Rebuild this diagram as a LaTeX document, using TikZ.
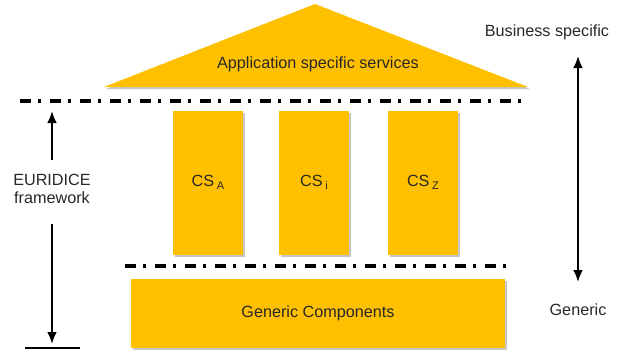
\documentclass[tikz,border=0pt]{standalone}
\usepackage{fontspec}
\setmainfont{Liberation Sans}
\usetikzlibrary{arrows.meta, calc, positioning, shadows}
\definecolor{amber}{RGB}{255,192,0}
\definecolor{ink}{RGB}{40,40,40}
\tikzset{
  block/.style={fill=amber, draw=none, text=ink, inner sep=0pt,
    drop shadow={shadow xshift=2pt, shadow yshift=-2pt, opacity=.45, fill=gray}},
  pillar/.style={block, minimum width=70pt, minimum height=144pt},
  layer/.style={line width=3.2pt, dash pattern=on 11pt off 7pt on 3pt off 9pt},
  span/.style={line width=2.4pt, -{Latex[length=12pt,width=10pt]}},
  tag/.style={text=ink, align=center}
}
\newcommand{\sub}[1]{\,\raisebox{-0.4ex}{\fontsize{11}{11}\selectfont #1}}
\begin{document}
\begin{tikzpicture}[x=1pt, y=-1pt, font=\fontsize{16.2}{18}\selectfont]
\useasboundingbox (0,0) rectangle (622,354);
%
% roof
\fill[amber, drop shadow={shadow xshift=2pt, shadow yshift=-2pt, opacity=.45, fill=gray}]
  (104,87) -- (315,4) -- (528,87) -- cycle;
\node[tag] (roof) at (318,64) {Application specific services};
%
\draw[layer] (20,101) -- (528,101);
\draw[layer] (125,266) -- (512,266);
%
% pillars
\node[pillar] (csA) at (208,182.5) {CS\sub{A}};
\node[pillar] (csI) at (314,182.5) {CS\sub{i}};
\node[pillar] (csZ) at (423,182.5) {CS\sub{Z}};
%
\node[block, minimum width=374pt, minimum height=69pt] (base) at (318,313.5) {Generic Components};
%
% left scale
\node[tag, inner sep=0pt] (frame) at (52,189) {EURIDICE\\framework};
\coordinate (ftop) at (52,111);
\coordinate (fbot) at (52,344);
\coordinate (barL) at (25,348);
\coordinate (barR) at (80,348);
\draw[span] ($(frame.north)+(0,-14)$) -- (ftop);
\draw[span] ($(frame.south)+(0,20)$) -- (fbot);
\draw[line width=2.8pt] (barL) -- (barR);
%
% right scale
\node[tag] (biz) at (547,32) {Business specific};
\node[tag] (gen) at (578,310) {Generic};
\coordinate (rtop) at (578,56);
\coordinate (rbot) at (578,282);
\draw[span, {Latex[length=12pt,width=10pt]}-{Latex[length=12pt,width=10pt]}] (rtop) -- (rbot);
\end{tikzpicture}
\end{document}
